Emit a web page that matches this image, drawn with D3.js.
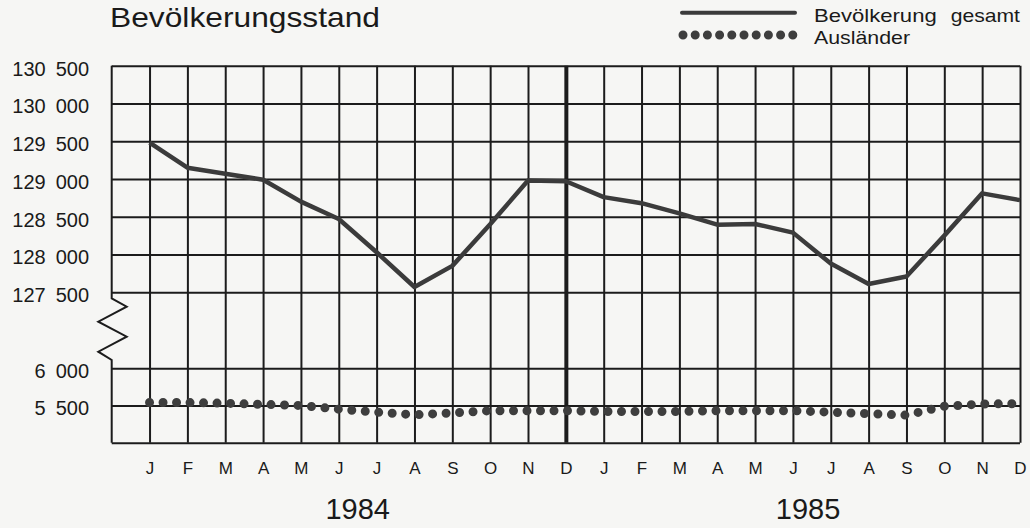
<!DOCTYPE html>
<html>
<head>
<meta charset="utf-8">
<script src="https://cdn.jsdelivr.net/npm/d3@7"></script>
<style>
    body { margin: 0; background: #f6f6f4; }
    svg { display: block; }
    svg text { font-family: "Liberation Sans", Arial, sans-serif; }
    .axis .domain { display: none; }
    .axis line { stroke: #1c1c1c; stroke-width: 2px; }
    .axis text { fill: #1a1a1a; }
</style>
</head>
<body>
<div id="chart-1"></div>
<script>

// monthly values, Jan 1984 .. Dec 1985
var months = ["J","F","M","A","M","J","J","A","S","O","N","D",
              "J","F","M","A","M","J","J","A","S","O","N","D"];
var years = ["1984", "1985"];

var total = [129480, 129150, 129070, 128990, 128700, 128470, 128030, 127570, 127850, 128400, 128980, 128970,
             128760, 128680, 128545, 128395, 128405, 128290, 127880, 127610, 127710, 128250, 128810, 128720];

var foreigners = [5540, 5540, 5530, 5515, 5500, 5450, 5410, 5375, 5400, 5430, 5430, 5430,
                  5420, 5420, 5420, 5430, 5430, 5430, 5410, 5390, 5370, 5490, 5520, 5525];

var upperTicks = [127500, 128000, 128500, 129000, 129500, 130000, 130500];
var lowerTicks = [5000, 5500, 6000];

var legendLabels = ["Bevölkerung", "gesamt", "Ausländer"];
var title = "Bevölkerungsstand";

var width = 1030, height = 528;

var svg = d3.select("#chart-1")
    .append("svg")
    .attr("width", width)
    .attr("height", height);

var x = d3.scaleLinear().domain([0, 24]).range([111.7, 1020]);
var yUp = d3.scaleLinear().domain([127500, 130500]).range([292.3, 65.7]);
var yLow = d3.scaleLinear().domain([5000, 6000]).range([442.7, 368.3]);

var gridW = x(24) - x(0);

var locale = d3.formatLocale({decimal: ",", thousands: "\u2002", grouping: [3], currency: ["", ""]});
var fmt = locale.format(",");

// vertical grid + month labels
var xAxis = d3.axisBottom(x)
    .tickValues(d3.range(1, 25))
    .tickSize(-(yLow(5000) - yUp(130500)))
    .tickPadding(19)
    .tickFormat(function(d) { return months[d - 1]; });

svg.append("g")
    .attr("class", "x axis")
    .attr("transform", "translate(0," + yLow(5000) + ")")
    .call(xAxis)
    .call(function(g) {
        g.selectAll("text").style("font-size", "17px");
        g.selectAll(".tick line").filter(function(d) { return d === 12; })
            .style("stroke-width", "4px");
    });

// horizontal grid, upper part
var yAxisUp = d3.axisLeft(yUp)
    .tickValues(upperTicks)
    .tickSize(-gridW)
    .tickPadding(22.7)
    .tickFormat(fmt);

svg.append("g")
    .attr("class", "y axis")
    .attr("transform", "translate(" + x(0) + ",0)")
    .call(yAxisUp)
    .selectAll("text")
    .attr("dy", "0.47em")
    .style("font-size", "20px");

// horizontal grid, lower part
var yAxisLow = d3.axisLeft(yLow)
    .tickValues(lowerTicks)
    .tickSize(-gridW)
    .tickPadding(22.7)
    .tickFormat(function(d) { return d === 5000 ? "" : fmt(d); });

svg.append("g")
    .attr("class", "y axis")
    .attr("transform", "translate(" + x(0) + ",0)")
    .call(yAxisLow)
    .selectAll("text")
    .attr("dy", "0.47em")
    .style("font-size", "20px");

// left frame with the axis break
var x0 = x(0), yb = yUp(127500), yt = yLow(6000);
var brk = [[x0, yUp(130500)], [x0, yb + 6], [x0 + 15, yb + 14.4], [x0 - 13.4, yb + 29.4],
           [x0 + 15, yb + 44.4], [x0 - 13.4, yb + 59.4], [x0, yt - 8.3], [x0, yLow(5000)]];

svg.append("path")
    .attr("d", d3.line()(brk))
    .style("fill", "none")
    .style("stroke", "#1c1c1c")
    .style("stroke-width", "2px");

// total population line
var totalLine = d3.line()
    .x(function(d, i) { return x(i + 1); })
    .y(function(d) { return yUp(d); });

svg.append("path")
    .attr("d", totalLine(total))
    .style("fill", "none")
    .style("stroke", "#3b3b3b")
    .style("stroke-width", "4.5px")
    .style("stroke-linejoin", "round");

// foreigners, dotted
var foreignLine = d3.line()
    .x(function(d, i) { return x(i + 1); })
    .y(function(d) { return yLow(d); });

svg.append("path")
    .attr("d", foreignLine(foreigners))
    .style("fill", "none")
    .style("stroke", "#3e3e3e")
    .style("stroke-width", "9px")
    .style("stroke-linecap", "round")
    .style("stroke-dasharray", "0 13.5");

// title
svg.append("text")
    .attr("x", 110)
    .attr("y", 27.3)
    .attr("textLength", 270)
    .attr("lengthAdjust", "spacingAndGlyphs")
    .style("font-size", "28px")
    .style("fill", "#1a1a1a")
    .text(title);

// legend
var legend = svg.append("g").attr("class", "legend");

legend.append("line")
    .attr("x1", 682).attr("x2", 795)
    .attr("y1", 12.7).attr("y2", 12.7)
    .style("stroke", "#3b3b3b")
    .style("stroke-width", "4px")
    .style("stroke-linecap", "round");

legend.append("line")
    .attr("x1", 683).attr("x2", 793.5)
    .attr("y1", 35).attr("y2", 35)
    .style("stroke", "#3e3e3e")
    .style("stroke-width", "9px")
    .style("stroke-linecap", "round")
    .style("stroke-dasharray", "0 12.2");

var legendText = [
    {t: legendLabels[0], x: 814, y: 21.5, w: 122.7},
    {t: legendLabels[1], x: 950.7, y: 21.5, w: 69.3},
    {t: legendLabels[2], x: 814, y: 43.5, w: 96}
];

legend.selectAll("text")
    .data(legendText)
    .enter()
    .append("text")
    .attr("x", function(d) { return d.x; })
    .attr("y", function(d) { return d.y; })
    .attr("textLength", function(d) { return d.w; })
    .attr("lengthAdjust", "spacingAndGlyphs")
    .style("font-size", "18.5px")
    .style("fill", "#1a1a1a")
    .text(function(d) { return d.t; });

// year labels
svg.selectAll(".year")
    .data(years)
    .enter()
    .append("text")
    .attr("class", "year")
    .attr("x", function(d, i) { return x(6.5 + i * 11.9); })
    .attr("y", 519)
    .attr("text-anchor", "middle")
    .style("font-size", "29px")
    .style("fill", "#1a1a1a")
    .text(function(d) { return d; });

</script>
</body>
</html>
